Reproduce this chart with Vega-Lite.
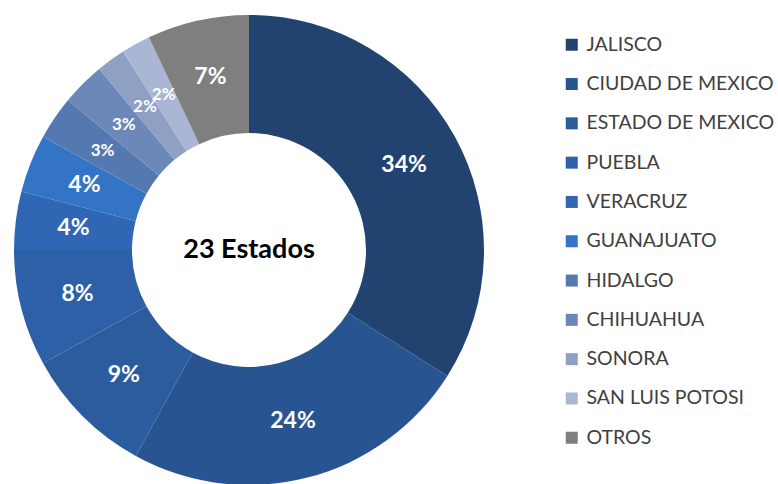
{
  "$schema": "https://vega.github.io/schema/vega-lite/v6.json",
  "width": 498,
  "height": 500,
  "padding": 0,
  "background": "white",
  "config": {"view": {"stroke": null}},
  "datasets": {
    "estados": [
      {"estado": "JALISCO", "pct": 34, "orden": 1},
      {"estado": "CIUDAD DE MEXICO", "pct": 24, "orden": 2},
      {"estado": "ESTADO DE MEXICO", "pct": 9, "orden": 3},
      {"estado": "PUEBLA", "pct": 8, "orden": 4},
      {"estado": "VERACRUZ", "pct": 4, "orden": 5},
      {"estado": "GUANAJUATO", "pct": 4, "orden": 6},
      {"estado": "HIDALGO", "pct": 3, "orden": 7},
      {"estado": "CHIHUAHUA", "pct": 3, "orden": 8},
      {"estado": "SONORA", "pct": 2, "orden": 9},
      {"estado": "SAN LUIS POTOSI", "pct": 2, "orden": 10},
      {"estado": "OTROS", "pct": 7, "orden": 11}
    ]
  },
  "layer": [
    {
      "data": {"name": "estados"},
      "mark": {"type": "arc", "outerRadius": 235, "innerRadius": 117},
      "encoding": {
        "theta": {"field": "pct", "type": "quantitative", "stack": true},
        "order": {"field": "orden", "type": "quantitative"},
        "color": {
          "field": "estado",
          "type": "nominal",
          "scale": {
            "domain": ["JALISCO", "CIUDAD DE MEXICO", "ESTADO DE MEXICO", "PUEBLA", "VERACRUZ", "GUANAJUATO", "HIDALGO", "CHIHUAHUA", "SONORA", "SAN LUIS POTOSI", "OTROS"],
            "range": ["#22426F", "#285591", "#2B5C9E", "#2D60A7", "#2F67B4", "#3474C6", "#5379B0", "#6C88B8", "#8EA0C4", "#A9B7D4", "#7F7F7F"]
          },
          "legend": {
            "title": null,
            "orient": "none",
            "legendX": 562,
            "legendY": 35,
            "symbolType": "square",
            "symbolSize": 144,
            "symbolStrokeWidth": 0,
            "labelFont": "Lato",
            "labelFontSize": 19.5,
            "labelColor": "#404040",
            "labelOffset": 5,
            "rowPadding": 18.3,
            "labelLimit": 300
          }
        }
      }
    },
    {
      "data": {"name": "estados"},
      "transform": [{"calculate": "datum.pct + '%'", "as": "lbl"}],
      "mark": {"type": "text", "radius": 177, "font": "Lato", "fontWeight": "bold", "color": "white"},
      "encoding": {
        "theta": {"field": "pct", "type": "quantitative", "stack": true},
        "order": {"field": "orden", "type": "quantitative"},
        "text": {"field": "lbl", "type": "nominal"},
        "size": {"condition": {"test": "datum.pct <= 3", "value": 17}, "value": 23},
        "detail": {"field": "estado"}
      }
    },
    {
      "data": {"values": [{"t": "23 Estados"}]},
      "mark": {"type": "text", "font": "Lato", "fontSize": 27, "fontWeight": "bold", "color": "black"},
      "encoding": {"text": {"field": "t"}}
    }
  ]
}
